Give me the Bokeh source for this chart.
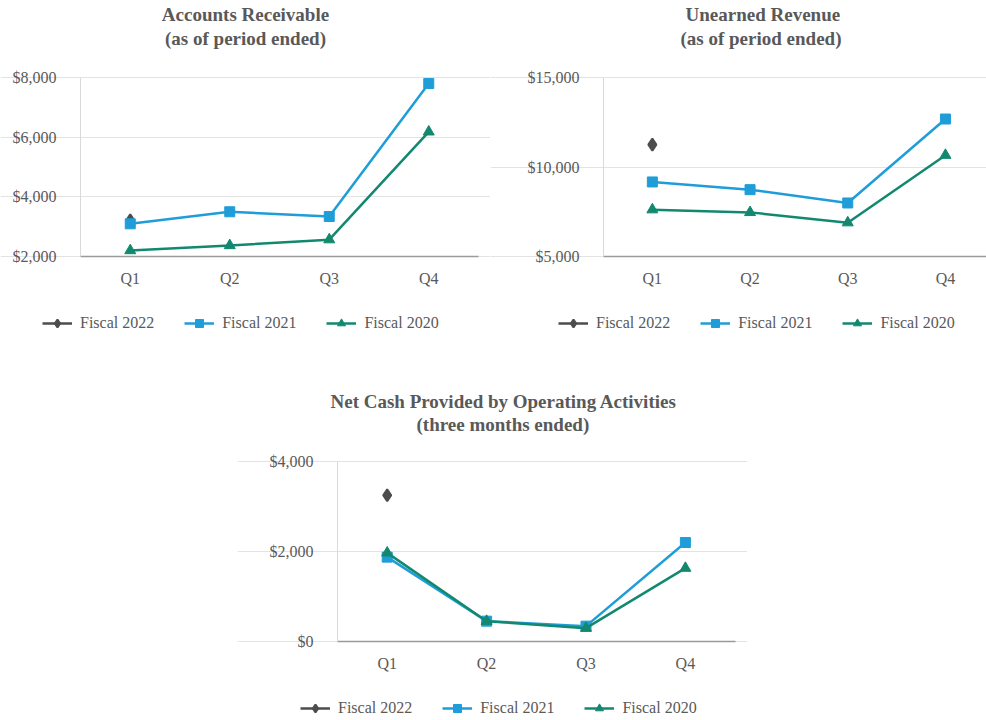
from bokeh.plotting import figure
from bokeh.models import (Title, Legend, LegendItem, FixedTicker,
                          NumeralTickFormatter, Spacer, Range1d)
from bokeh.layouts import column, row
from bokeh.embed import file_html
from bokeh.resources import INLINE

# ---------------- data ----------------
quarters = ["Q1", "Q2", "Q3", "Q4"]
series_names = ["Fiscal 2022", "Fiscal 2021", "Fiscal 2020"]

ar_2022 = [3210]
ar_2021 = [3095, 3500, 3340, 7800]
ar_2020 = [2200, 2370, 2565, 6180]
ar_ticks = [2000, 4000, 6000, 8000]

ur_2022 = [11250]
ur_2021 = [9165, 8735, 7990, 12680]
ur_2020 = [7615, 7465, 6890, 10660]
ur_ticks = [5000, 10000, 15000]

ocf_2022 = [3250]
ocf_2021 = [1875, 452, 341, 2200]
ocf_2020 = [1970, 452, 296, 1630]
ocf_ticks = [0, 2000, 4000]

# quarter positions on the x scale (1 = Q1 ...)
qpos = list(range(1, len(quarters) + 1))

# ---------------- style ----------------
FONT = "Liberation Serif"
TEXT = "#595959"
C22 = "#4d4d4d"
C21 = "#1f9dd8"
C20 = "#12896f"


def make_title(text, gap, left):
    kw = dict(text=text, text_font=FONT, text_font_size="19px",
              text_font_style="bold", text_color=TEXT, standoff=gap)
    if left is None:
        kw["align"] = "center"
    else:
        kw["align"] = "left"
        kw["offset"] = left
    return Title(**kw)


def make_chart(t1, t2, s22, s21, s20, ticks, lay):
    span = ticks[-1] - ticks[0]
    per_px = span / lay["tick_px"]
    y_end = ticks[-1] + lay["extra_top"] * per_px
    y_start = ticks[0] - lay["extra_bottom"] * per_px
    x_start = 0.5 - lay["axis_px"] / lay["band"]
    x_end = x_start + lay["w"] / lay["band"]
    x_lo, x_hi = 0.5, len(quarters) + 0.5

    p = figure(x_range=Range1d(x_start, x_end), y_range=Range1d(y_start, y_end),
               width=lay["w"], height=lay["h"],
               min_border_left=0, min_border_right=0,
               min_border_top=lay["t"], min_border_bottom=lay["b"],
               toolbar_location=None, output_backend="svg")
    p.outline_line_color = None
    p.xgrid.grid_line_color = None
    p.ygrid.grid_line_color = "#e3e3e3"
    p.ygrid.grid_line_width = 1
    p.ygrid.ticker = FixedTicker(ticks=ticks)
    p.ygrid.bounds = (x_lo, x_hi)

    p.yaxis.ticker = FixedTicker(ticks=ticks)
    p.yaxis.formatter = NumeralTickFormatter(format="$0,0")
    p.yaxis.bounds = (ticks[0], ticks[-1])
    p.yaxis.fixed_location = x_lo
    p.xaxis.ticker = FixedTicker(ticks=qpos)
    p.xaxis.major_label_overrides = {q: lab for q, lab in zip(qpos, quarters)}
    p.xaxis.bounds = (x_lo, x_hi)
    p.xaxis.fixed_location = ticks[0]
    for ax in (p.xaxis, p.yaxis):
        ax.major_tick_line_color = None
        ax.minor_tick_line_color = None
        ax.major_label_text_font = FONT
        ax.major_label_text_font_size = "16px"
        ax.major_label_text_color = TEXT
    p.yaxis.axis_line_color = "#d9d9d9"
    p.xaxis.axis_line_color = "#9a9a9a"
    p.xaxis.axis_line_width = 1.5
    p.yaxis.major_label_standoff = 18
    p.xaxis.major_label_standoff = 7

    n = len(s22)
    l22 = p.line(qpos[:n], s22, line_color=C22, line_width=2.5)
    m22 = p.scatter(qpos[:n], s22, marker="diamond", size=12, line_width=2,
                    fill_color=C22, line_color=C22)
    l21 = p.line(qpos, s21, line_color=C21, line_width=2.5)
    m21 = p.scatter(qpos, s21, marker="square", size=10,
                    fill_color=C21, line_color=C21)
    l20 = p.line(qpos, s20, line_color=C20, line_width=2.5)
    m20 = p.scatter(qpos, s20, marker="triangle", size=11,
                    fill_color=C20, line_color=C20)

    legend = Legend(items=[
        LegendItem(label=series_names[0], renderers=[l22, m22]),
        LegendItem(label=series_names[1], renderers=[l21, m21]),
        LegendItem(label=series_names[2], renderers=[l20, m20]),
    ], orientation="horizontal", location=lay["legend"])
    legend.label_text_font = FONT
    legend.label_text_font_size = "16px"
    legend.label_text_color = TEXT
    legend.glyph_width = 30
    legend.label_standoff = 8
    legend.spacing = 30
    legend.padding = 0
    legend.margin = 0
    legend.border_line_color = None
    legend.background_fill_alpha = 0
    p.add_layout(legend, "center")

    left1, left2 = lay["title_left"]
    p.add_layout(make_title(t2, lay["gap"], left2), "above")
    p.add_layout(make_title(t1, 0, left1), "above")
    return p


lay1 = dict(w=490, h=350, t=49, b=5, tick_px=179, extra_top=28, extra_bottom=89,
            axis_px=80, band=99.5, legend=(42, 12), title_left=(None, None), gap=2)
lay2 = dict(w=496, h=350, t=49, b=5, tick_px=179, extra_top=28, extra_bottom=89,
            axis_px=113, band=97.7, legend=(68, 12), title_left=(195, 190), gap=2)
lay3 = dict(w=510, h=370, t=84, b=0, tick_px=180, extra_top=27, extra_bottom=79,
            axis_px=100, band=99.4, legend=(63, 2), title_left=(93, 179), gap=0)

p1 = make_chart("Accounts Receivable", "(as of period ended)",
                ar_2022, ar_2021, ar_2020, ar_ticks, lay1)
p2 = make_chart("Unearned Revenue", "(as of period ended)",
                ur_2022, ur_2021, ur_2020, ur_ticks, lay2)
p3 = make_chart("Net Cash Provided by Operating Activities", "(three months ended)",
                ocf_2022, ocf_2021, ocf_2020, ocf_ticks, lay3)

layout = column(row(p1, p2), row(Spacer(width=237, height=370), p3))

open("out.html", "w").write(file_html(layout, INLINE))
